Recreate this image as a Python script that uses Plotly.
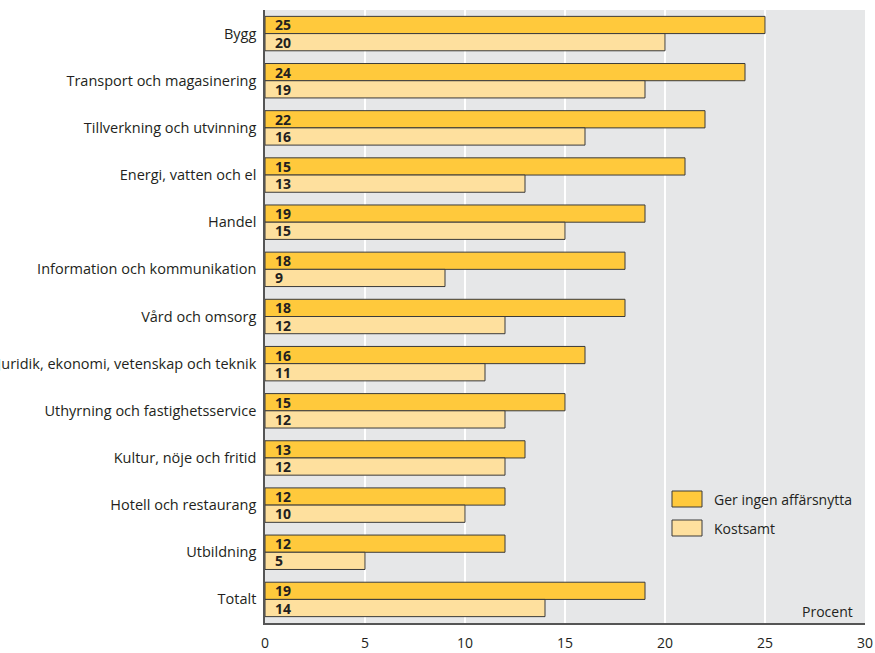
import plotly.graph_objects as go

categories = ["Bygg", "Transport och magasinering", "Tillverkning och utvinning",
              "Energi, vatten och el", "Handel", "Information och kommunikation",
              "Vård och omsorg", "Juridik, ekonomi, vetenskap och teknik",
              "Uthyrning och fastighetsservice", "Kultur, nöje och fritid",
              "Hotell och restaurang", "Utbildning", "Totalt"]
ingen_nytta = [25, 24, 22, 21, 19, 18, 18, 16, 15, 13, 12, 12, 19]
ingen_nytta_labels = ["25", "24", "22", "15", "19", "18", "18", "16", "15", "13", "12", "12", "19"]
kostsamt = [20, 19, 16, 13, 15, 9, 12, 11, 12, 12, 10, 5, 14]
kostsamt_labels = [str(v) for v in kostsamt]
series_names = ["Ger ingen affärsnytta", "Kostsamt"]
series_colors = ["#ffc93c", "#fee09e"]

font_family = "Open Sans, Noto Sans, sans-serif"
outline = "#3a3a3a"
pad = "\u2002"

fig = go.Figure()
for name, vals, labels, color in [(series_names[0], ingen_nytta, ingen_nytta_labels, series_colors[0]),
                                  (series_names[1], kostsamt, kostsamt_labels, series_colors[1])]:
    fig.add_trace(go.Bar(
        y=categories, x=vals, orientation="h", name=name, showlegend=False,
        marker=dict(color=color, line=dict(color=outline, width=1)),
        text=[pad + t for t in labels], textposition="inside", insidetextanchor="start",
        textfont=dict(family=font_family, size=14, color="#231f20", weight="bold"),
        textangle=0, cliponaxis=False,
    ))

# legend drawn as boxes + labels
shapes = []
annotations = []
box_x0, box_x1 = (672 - 265) / 600, (702 - 265) / 600
tops = [491, 520]
for name, color, top in zip(series_names, series_colors, tops):
    y0 = (623 - (top + 16)) / 613
    y1 = (623 - top) / 613
    shapes.append(dict(type="rect", xref="paper", yref="paper", x0=box_x0, x1=box_x1,
                       y0=y0, y1=y1, fillcolor=color, line=dict(color=outline, width=1)))
    annotations.append(dict(text=name, xref="paper", yref="paper", x=(712 - 265) / 600,
                            y=(y0 + y1) / 2, xanchor="left", yanchor="middle",
                            showarrow=False, font=dict(size=14, color="#231f20")))
annotations.append(dict(text="Procent", xref="paper", yref="paper", x=0.983, y=0,
                        xanchor="right", yanchor="bottom", yshift=0, showarrow=False,
                        font=dict(size=14, color="#231f20")))

fig.update_layout(
    width=875, height=653,
    margin=dict(l=265, r=10, t=10, b=30, autoexpand=False),
    barmode="group", bargap=0.27, bargroupgap=0.0,
    plot_bgcolor="#e6e7e8", paper_bgcolor="white",
    font=dict(family=font_family, size=14, color="#231f20"),
    uniformtext=dict(mode="show", minsize=14),
    showlegend=False,
    shapes=shapes,
    annotations=annotations,
)
fig.update_xaxes(range=[0, 30], tickvals=[0, 5, 10, 15, 20, 25, 30],
                 showgrid=True, gridcolor="white", gridwidth=1.5,
                 zeroline=False, showline=True, linecolor="#555555", linewidth=1.5,
                 ticks="", ticklabelstandoff=6, automargin=False,
                 tickfont=dict(size=14, color="#231f20"))
fig.update_yaxes(autorange="reversed", showgrid=False, zeroline=False,
                 showline=True, linecolor="#555555", linewidth=1.5,
                 ticks="", ticklabelstandoff=4, automargin=False,
                 tickfont=dict(size=14.5, color="#231f20"))

fig.write_html("out.html")
